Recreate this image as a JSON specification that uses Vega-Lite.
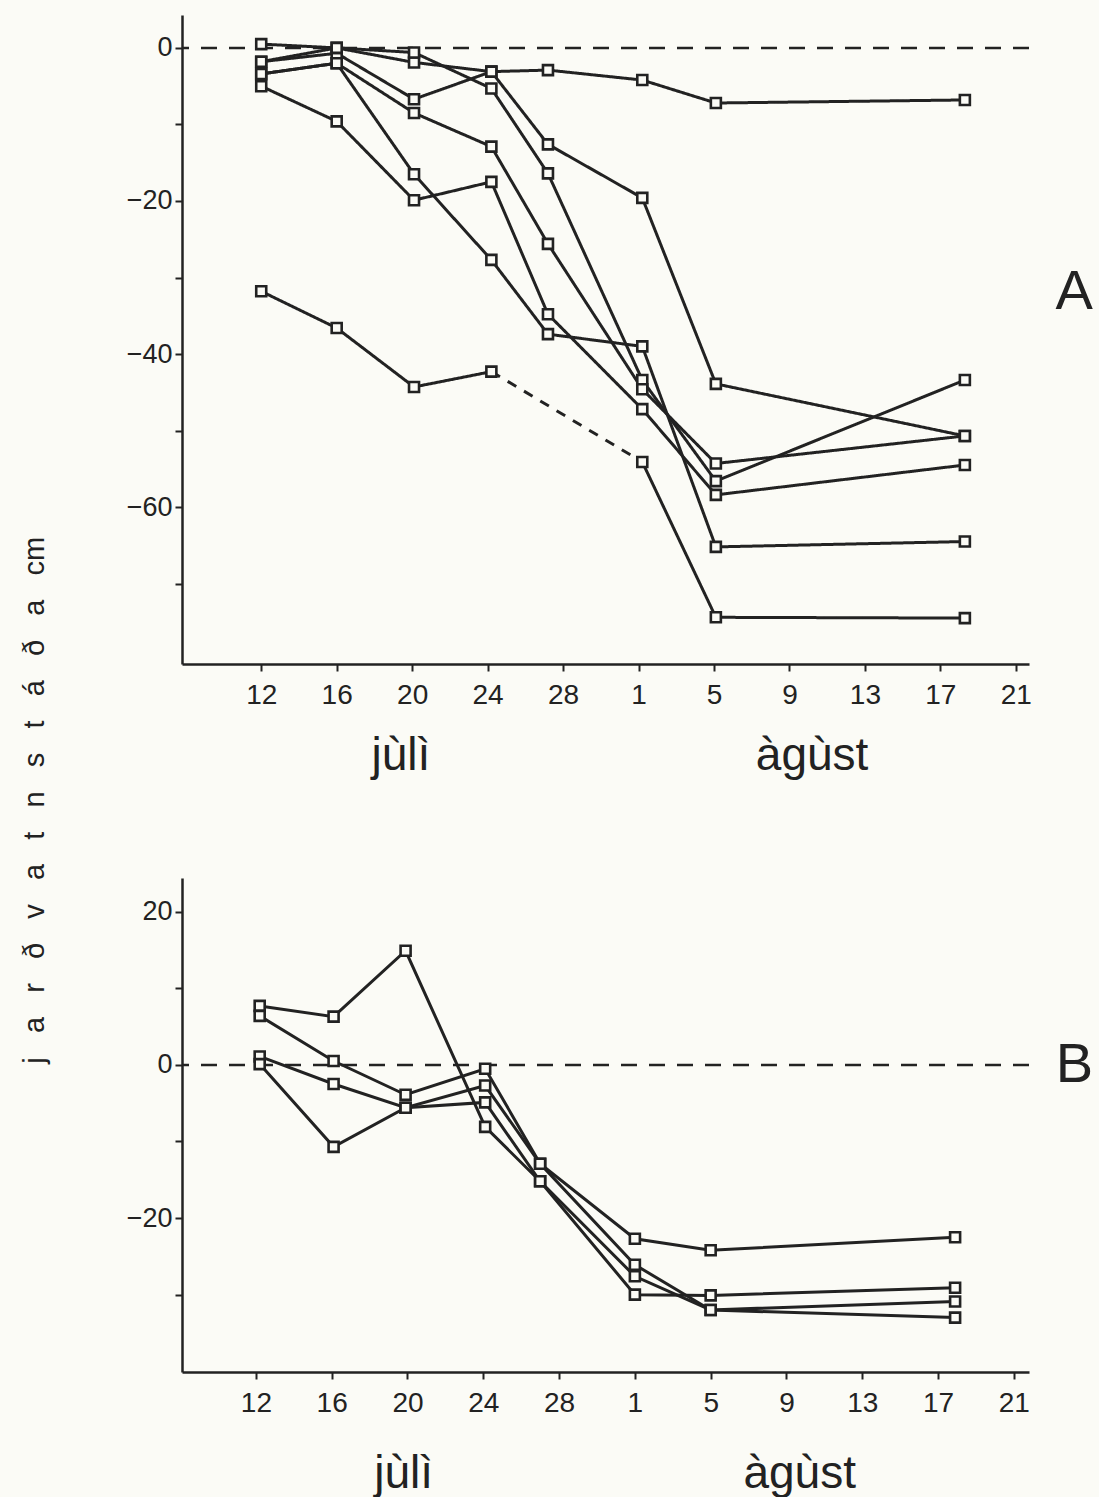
{
  "$schema": "https://vega.github.io/schema/vega-lite/v6.json",
  "background": "#fbfbf6",
  "padding": {"left": 20, "top": 15, "right": 5, "bottom": 5},
  "bounds": "flush",
  "spacing": 214,
  "config": {
    "view": {"stroke": null},
    "font": "Liberation Sans",
    "axis": {"domainColor": "#222222", "domainWidth": 2.5, "tickColor": "#222222", "tickWidth": 2, "tickSize": 7, "grid": false, "labelColor": "#222222", "title": null},
    "axisX": {"labelFontSize": 28, "labelPadding": 10},
    "axisY": {"labelFontSize": 27, "labelPadding": 3}
  },
  "datasets": {
    "A": [
      {"series": "S1", "link": "solid", "day": 12, "v": -1.8},
      {"series": "S1", "link": "solid", "day": 16, "v": -0.7},
      {"series": "S1", "link": "solid", "day": 20.1, "v": -6.7},
      {"series": "S1", "link": "solid", "day": 24.2, "v": -3.1},
      {"series": "S1", "link": "solid", "day": 27.2, "v": -2.9},
      {"series": "S1", "link": "solid", "day": 32.2, "v": -4.2},
      {"series": "S1", "link": "solid", "day": 36.1, "v": -7.2},
      {"series": "S1", "link": "solid", "day": 49.3, "v": -6.8},
      {"series": "S2", "link": "solid", "day": 12, "v": 0.5},
      {"series": "S2", "link": "solid", "day": 16, "v": 0.0},
      {"series": "S2", "link": "solid", "day": 20.1, "v": -1.9},
      {"series": "S2", "link": "solid", "day": 24.2, "v": -3.1},
      {"series": "S2", "link": "solid", "day": 27.2, "v": -12.6},
      {"series": "S2", "link": "solid", "day": 32.2, "v": -19.6},
      {"series": "S2", "link": "solid", "day": 36.1, "v": -43.9},
      {"series": "S2", "link": "solid", "day": 49.3, "v": -50.7},
      {"series": "S3", "link": "solid", "day": 12, "v": -1.8},
      {"series": "S3", "link": "solid", "day": 16, "v": 0.0},
      {"series": "S3", "link": "solid", "day": 20.1, "v": -0.6},
      {"series": "S3", "link": "solid", "day": 24.2, "v": -5.3},
      {"series": "S3", "link": "solid", "day": 27.2, "v": -16.4},
      {"series": "S3", "link": "solid", "day": 32.2, "v": -43.4},
      {"series": "S3", "link": "solid", "day": 36.1, "v": -56.6},
      {"series": "S3", "link": "solid", "day": 49.3, "v": -43.4},
      {"series": "S4", "link": "solid", "day": 12, "v": -3.4},
      {"series": "S4", "link": "solid", "day": 16, "v": -2.0},
      {"series": "S4", "link": "solid", "day": 20.1, "v": -8.5},
      {"series": "S4", "link": "solid", "day": 24.2, "v": -12.9},
      {"series": "S4", "link": "solid", "day": 27.2, "v": -25.6},
      {"series": "S4", "link": "solid", "day": 32.2, "v": -44.6},
      {"series": "S4", "link": "solid", "day": 36.1, "v": -54.3},
      {"series": "S4", "link": "solid", "day": 49.3, "v": -50.7},
      {"series": "S5", "link": "solid", "day": 12, "v": -5.0},
      {"series": "S5", "link": "solid", "day": 16, "v": -9.6},
      {"series": "S5", "link": "solid", "day": 20.1, "v": -19.9},
      {"series": "S5", "link": "solid", "day": 24.2, "v": -17.5},
      {"series": "S5", "link": "solid", "day": 27.2, "v": -34.8},
      {"series": "S5", "link": "solid", "day": 32.2, "v": -47.2},
      {"series": "S5", "link": "solid", "day": 36.1, "v": -58.4},
      {"series": "S5", "link": "solid", "day": 49.3, "v": -54.5},
      {"series": "S6", "link": "solid", "day": 12, "v": -3.4},
      {"series": "S6", "link": "solid", "day": 16, "v": -2.0},
      {"series": "S6", "link": "solid", "day": 20.1, "v": -16.5},
      {"series": "S6", "link": "solid", "day": 24.2, "v": -27.7},
      {"series": "S6", "link": "solid", "day": 27.2, "v": -37.4},
      {"series": "S6", "link": "solid", "day": 32.2, "v": -39.0},
      {"series": "S6", "link": "solid", "day": 36.1, "v": -65.2},
      {"series": "S6", "link": "solid", "day": 49.3, "v": -64.5},
      {"series": "S7a", "link": "solid", "day": 12, "v": -31.8},
      {"series": "S7a", "link": "solid", "day": 16, "v": -36.6},
      {"series": "S7a", "link": "solid", "day": 20.1, "v": -44.3},
      {"series": "S7a", "link": "solid", "day": 24.2, "v": -42.3},
      {"series": "S7gap", "link": "dashed", "day": 24.2, "v": -42.3},
      {"series": "S7gap", "link": "dashed", "day": 32.2, "v": -54.1},
      {"series": "S7b", "link": "solid", "day": 32.2, "v": -54.1},
      {"series": "S7b", "link": "solid", "day": 36.1, "v": -74.4},
      {"series": "S7b", "link": "solid", "day": 49.3, "v": -74.5}
    ],
    "B": [
      {"series": "B1", "link": "solid", "day": 12.2, "v": 7.7},
      {"series": "B1", "link": "solid", "day": 16.1, "v": 6.3},
      {"series": "B1", "link": "solid", "day": 19.9, "v": 14.9},
      {"series": "B1", "link": "solid", "day": 24.1, "v": -8.1},
      {"series": "B1", "link": "solid", "day": 27.0, "v": -15.2},
      {"series": "B1", "link": "solid", "day": 32.0, "v": -30.0},
      {"series": "B1", "link": "solid", "day": 36.0, "v": -30.1},
      {"series": "B1", "link": "solid", "day": 48.9, "v": -29.1},
      {"series": "B2", "link": "solid", "day": 12.2, "v": 6.4},
      {"series": "B2", "link": "solid", "day": 16.1, "v": 0.5},
      {"series": "B2", "link": "solid", "day": 19.9, "v": -3.9},
      {"series": "B2", "link": "solid", "day": 24.1, "v": -0.5},
      {"series": "B2", "link": "solid", "day": 27.0, "v": -12.9},
      {"series": "B2", "link": "solid", "day": 32.0, "v": -22.7},
      {"series": "B2", "link": "solid", "day": 36.0, "v": -24.2},
      {"series": "B2", "link": "solid", "day": 48.9, "v": -22.5},
      {"series": "B3", "link": "solid", "day": 12.2, "v": 1.1},
      {"series": "B3", "link": "solid", "day": 16.1, "v": -2.5},
      {"series": "B3", "link": "solid", "day": 19.9, "v": -5.6},
      {"series": "B3", "link": "solid", "day": 24.1, "v": -2.7},
      {"series": "B3", "link": "solid", "day": 27.0, "v": -12.9},
      {"series": "B3", "link": "solid", "day": 32.0, "v": -26.1},
      {"series": "B3", "link": "solid", "day": 36.0, "v": -32.0},
      {"series": "B3", "link": "solid", "day": 48.9, "v": -30.9},
      {"series": "B4", "link": "solid", "day": 12.2, "v": 0.1},
      {"series": "B4", "link": "solid", "day": 16.1, "v": -10.7},
      {"series": "B4", "link": "solid", "day": 19.9, "v": -5.6},
      {"series": "B4", "link": "solid", "day": 24.1, "v": -4.9},
      {"series": "B4", "link": "solid", "day": 27.0, "v": -15.2},
      {"series": "B4", "link": "solid", "day": 32.0, "v": -27.6},
      {"series": "B4", "link": "solid", "day": 36.0, "v": -32.0},
      {"series": "B4", "link": "solid", "day": 48.9, "v": -33.0}
    ],
    "labA": [
      {"t": "jùlì", "day": 19.4, "v": -94.4, "k": "month"},
      {"t": "àgùst", "day": 41.2, "v": -94.4, "k": "month"},
      {"t": "A", "day": 55.1, "v": -31.9, "k": "panel"},
      {"t": "j\u2002\u2004a\u2002\u2004r\u2002\u2004ð\u2002\u2004v\u2002\u2004a\u2002\u2004t\u2002\u2004n\u2002\u2004s\u2002\u2004t\u2002\u2004á\u2002\u2004ð\u2002\u2004a\u2002\u2004cm", "day": 0.0, "v": -98.3, "k": "ytitle"}
    ],
    "labB": [
      {"t": "jùlì", "day": 19.8, "v": -55.2, "k": "month"},
      {"t": "àgùst", "day": 40.7, "v": -55.2, "k": "month"},
      {"t": "B", "day": 55.2, "v": 0, "k": "panel"}
    ]
  },
  "vconcat": [
    {
      "width": 847,
      "height": 649,
      "layer": [
        {
          "data": {"values": [{}]},
          "mark": {"type": "rule", "strokeDash": [16, 12], "strokeWidth": 2.5, "color": "#222222"},
          "encoding": {"y": {"datum": 0, "type": "quantitative", "scale": {"domain": [-80.5, 4.3], "nice": false, "zero": false}}}
        },
        {
          "data": {"name": "A"},
          "mark": {"type": "line", "strokeWidth": 3, "color": "#222222"},
          "encoding": {
            "x": {"field": "day", "type": "quantitative", "scale": {"domain": [7.8, 52.7], "nice": false, "zero": false}, "axis": {"values": [12, 16, 20, 24, 28, 32, 36, 40, 44, 48, 52], "labelExpr": "datum.value > 31 ? '' + (datum.value - 31) : '' + datum.value"}},
            "y": {"field": "v", "type": "quantitative", "scale": {"domain": [-80.5, 4.3], "nice": false, "zero": false}, "axis": {"values": [-70, -60, -50, -40, -30, -20, -10, 0], "labelExpr": "datum.value % 20 == 0 ? datum.label : ''"}},
            "detail": {"field": "series"},
            "strokeDash": {"field": "link", "type": "nominal", "scale": {"domain": ["solid", "dashed"], "range": [[1, 0], [10, 9]]}, "legend": null}
          }
        },
        {
          "data": {"name": "A"},
          "transform": [{"filter": "datum.link == 'solid'"}],
          "mark": {"type": "point", "shape": "square", "size": 100, "filled": true, "fill": "#fbfbf6", "stroke": "#222222", "strokeWidth": 2.6, "opacity": 1},
          "encoding": {
            "x": {"field": "day", "type": "quantitative", "scale": {"domain": [7.8, 52.7], "nice": false, "zero": false}},
            "y": {"field": "v", "type": "quantitative", "scale": {"domain": [-80.5, 4.3], "nice": false, "zero": false}}
          }
        },
        {
          "data": {"name": "labA"},
          "transform": [{"filter": "datum.k == 'month'"}],
          "mark": {"type": "text", "fontSize": 46, "align": "center", "baseline": "alphabetic", "color": "#222222"},
          "encoding": {
            "x": {"field": "day", "type": "quantitative", "scale": {"domain": [7.8, 52.7], "nice": false, "zero": false}},
            "y": {"field": "v", "type": "quantitative", "scale": {"domain": [-80.5, 4.3], "nice": false, "zero": false}},
            "text": {"field": "t"}
          }
        },
        {
          "data": {"name": "labA"},
          "transform": [{"filter": "datum.k == 'panel'"}],
          "mark": {"type": "text", "fontSize": 56, "align": "center", "baseline": "middle", "color": "#222222"},
          "encoding": {
            "x": {"field": "day", "type": "quantitative", "scale": {"domain": [7.8, 52.7], "nice": false, "zero": false}},
            "y": {"field": "v", "type": "quantitative", "scale": {"domain": [-80.5, 4.3], "nice": false, "zero": false}},
            "text": {"field": "t"}
          }
        },
        {
          "data": {"name": "labA"},
          "transform": [{"filter": "datum.k == 'ytitle'"}],
          "mark": {"type": "text", "fontSize": 29, "angle": 270, "align": "center", "baseline": "middle", "color": "#222222"},
          "encoding": {
            "x": {"field": "day", "type": "quantitative", "scale": {"domain": [7.8, 52.7], "nice": false, "zero": false}},
            "y": {"field": "v", "type": "quantitative", "scale": {"domain": [-80.5, 4.3], "nice": false, "zero": false}},
            "text": {"field": "t"}
          }
        }
      ]
    },
    {
      "width": 847,
      "height": 494,
      "layer": [
        {
          "data": {"values": [{}]},
          "mark": {"type": "rule", "strokeDash": [16, 12], "strokeWidth": 2.5, "color": "#222222"},
          "encoding": {"y": {"datum": 0, "type": "quantitative", "scale": {"domain": [-40.1, 24.4], "nice": false, "zero": false}}}
        },
        {
          "data": {"name": "B"},
          "mark": {"type": "line", "strokeWidth": 3, "color": "#222222"},
          "encoding": {
            "x": {"field": "day", "type": "quantitative", "scale": {"domain": [8.1, 52.8], "nice": false, "zero": false}, "axis": {"values": [12, 16, 20, 24, 28, 32, 36, 40, 44, 48, 52], "labelExpr": "datum.value > 31 ? '' + (datum.value - 31) : '' + datum.value"}},
            "y": {"field": "v", "type": "quantitative", "scale": {"domain": [-40.1, 24.4], "nice": false, "zero": false}, "axis": {"values": [-30, -20, -10, 0, 10, 20], "labelExpr": "datum.value % 20 == 0 ? datum.label : ''"}},
            "detail": {"field": "series"}
          }
        },
        {
          "data": {"name": "B"},
          "mark": {"type": "point", "shape": "square", "size": 100, "filled": true, "fill": "#fbfbf6", "stroke": "#222222", "strokeWidth": 2.6, "opacity": 1},
          "encoding": {
            "x": {"field": "day", "type": "quantitative", "scale": {"domain": [8.1, 52.8], "nice": false, "zero": false}},
            "y": {"field": "v", "type": "quantitative", "scale": {"domain": [-40.1, 24.4], "nice": false, "zero": false}}
          }
        },
        {
          "data": {"name": "labB"},
          "transform": [{"filter": "datum.k == 'month'"}],
          "mark": {"type": "text", "fontSize": 46, "align": "center", "baseline": "alphabetic", "color": "#222222"},
          "encoding": {
            "x": {"field": "day", "type": "quantitative", "scale": {"domain": [8.1, 52.8], "nice": false, "zero": false}},
            "y": {"field": "v", "type": "quantitative", "scale": {"domain": [-40.1, 24.4], "nice": false, "zero": false}},
            "text": {"field": "t"}
          }
        },
        {
          "data": {"name": "labB"},
          "transform": [{"filter": "datum.k == 'panel'"}],
          "mark": {"type": "text", "fontSize": 56, "align": "center", "baseline": "middle", "color": "#222222"},
          "encoding": {
            "x": {"field": "day", "type": "quantitative", "scale": {"domain": [8.1, 52.8], "nice": false, "zero": false}},
            "y": {"field": "v", "type": "quantitative", "scale": {"domain": [-40.1, 24.4], "nice": false, "zero": false}},
            "text": {"field": "t"}
          }
        }
      ]
    }
  ]
}
